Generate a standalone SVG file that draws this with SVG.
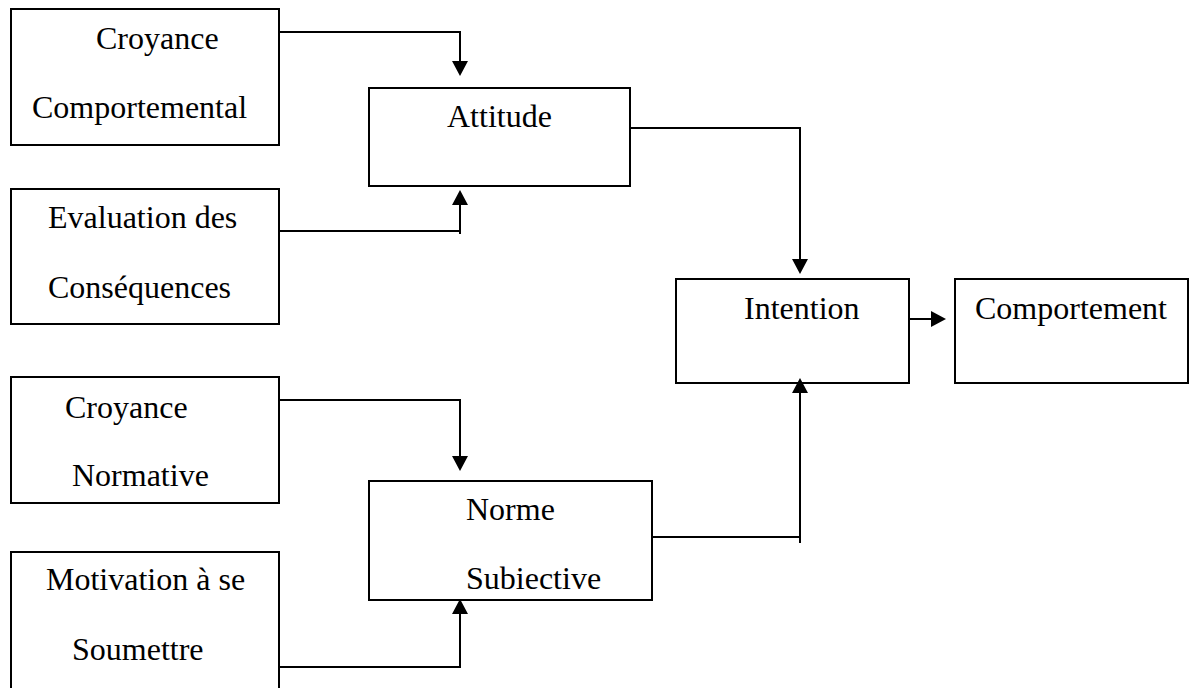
<svg xmlns="http://www.w3.org/2000/svg" width="1192" height="688" viewBox="0 0 1192 688">
<style>
.box{fill:#fff;stroke:#000;stroke-width:2}
.t{font-family:"Liberation Serif","Times New Roman",serif;font-size:32px;fill:#000}
.c{fill:none;stroke:#000;stroke-width:2}
</style>
<defs>
<marker id="ah" viewBox="0 0 15 16" refX="12" refY="8" markerWidth="15" markerHeight="16" markerUnits="userSpaceOnUse" orient="auto">
<path d="M0,0 L15,8 L0,16 z" fill="#000"/>
</marker>
</defs>
<rect width="1192" height="688" fill="#fff"/>
<g id="croyance-comportementale">
<rect class="box" x="11" y="9" width="268" height="136"/>
<text class="t" x="96" y="49">Croyance</text>
<text class="t" x="32" y="118">Comportemental</text>
</g>
<g id="evaluation">
<rect class="box" x="11" y="189" width="268" height="135"/>
<text class="t" x="48" y="228">Evaluation des</text>
<text class="t" x="48" y="298">Conséquences</text>
</g>
<g id="croyance-normative">
<rect class="box" x="11" y="377" width="268" height="126"/>
<text class="t" x="65" y="418">Croyance</text>
<text class="t" x="72" y="486">Normative</text>
</g>
<g id="motivation">
<rect class="box" x="11" y="552" width="268" height="150"/>
<text class="t" x="46" y="590">Motivation à se</text>
<text class="t" x="72" y="660">Soumettre</text>
</g>
<g id="attitude">
<rect class="box" x="369" y="88" width="261" height="98"/>
<text class="t" x="447" y="127">Attitude</text>
</g>
<g id="norme">
<rect class="box" x="369" y="481" width="283" height="119"/>
<text class="t" x="466" y="520">Norme</text>
<text class="t" x="466" y="589">Subiective</text>
</g>
<g id="intention">
<rect class="box" x="676" y="279" width="233" height="104"/>
<text class="t" x="744" y="319">Intention</text>
</g>
<g id="comportement">
<rect class="box" x="955" y="279" width="233" height="104"/>
<text class="t" x="975" y="319">Comportement</text>
</g>
<g id="connectors">
<path class="c" d="M279,32 H460 V73" marker-end="url(#ah)"/>
<path class="c" d="M279,231 H460 V193" marker-end="url(#ah)"/>
<path class="c" d="M460,231 V234"/>
<path class="c" d="M630,128 H800 V271" marker-end="url(#ah)"/>
<path class="c" d="M909,319 H943" marker-end="url(#ah)"/>
<path class="c" d="M279,400 H460 V468" marker-end="url(#ah)"/>
<path class="c" d="M279,667 H460 V602" marker-end="url(#ah)"/>
<path class="c" d="M652,537 H800 V381" marker-end="url(#ah)"/>
<path class="c" d="M800,537 V543"/>
</g>
</svg>
